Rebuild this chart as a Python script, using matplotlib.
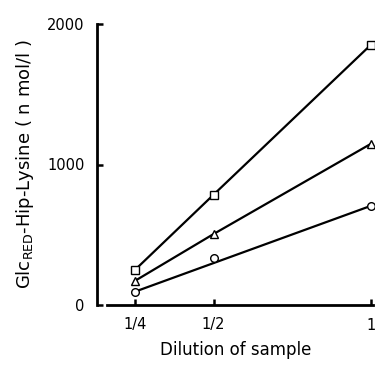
import matplotlib
matplotlib.use('Agg')
import matplotlib.pyplot as plt

# dilution of sample
dilution = [0.25, 0.5, 1.0]
dilution_labels = ['1/4', '1/2', '1']
# GlcRED-Hip-Lysine, n mol/l
squares = [250, 785, 1850]
triangles = [172, 505, 1146]
circles = [95, 334, 705]

plt.rcParams['font.family'] = ['DejaVu Sans']

fig = plt.figure(figsize=(3.75, 3.66), dpi=100)
ax = fig.add_axes([97 / 375, 61 / 366, 278 / 375, 281 / 366])
ax.set_xlim(0.129, 1.014)
ax.set_ylim(0, 2000)

lw = 1.6
mk = dict(mfc='white', mec='black', mew=1.0, ms=5.5, ls='none', zorder=3)
ax.plot(dilution, squares, color='black', lw=lw, zorder=2)
ax.plot(dilution, squares, marker='s', **mk)
ax.plot(dilution, triangles, color='black', lw=lw, zorder=2)
ax.plot(dilution, triangles, marker='^', **mk)
# circle line is a straight fit, drawn end to end
ax.plot([dilution[0], dilution[-1]], [circles[0], circles[-1]], color='black', lw=lw, zorder=2)
ax.plot(dilution, circles, marker='o', **mk)

for s in ['top', 'right']:
    ax.spines[s].set_visible(False)
ax.spines['left'].set_linewidth(2.0)
ax.spines['bottom'].set_linewidth(2.0)
ax.spines['left'].set_bounds(0, 2000)
ax.spines['bottom'].set_bounds(0.16, 1.007)

ax.set_xticks(dilution)
ax.set_xticklabels(dilution_labels)
ax.set_yticks([0, 1000, 2000])
ax.tick_params(axis='both', direction='in', length=4, width=1.8, labelsize=10.5)
ax.tick_params(axis='y', pad=9)
ax.tick_params(axis='x', pad=9)

ax.set_xlabel('Dilution of sample', fontsize=12, labelpad=6)
ax.set_ylabel('Glc$_{\\mathregular{RED}}$-Hip-Lysine ( n mol/l )', fontsize=13, labelpad=8)

fig.savefig('out.png', dpi=100, facecolor='white')
